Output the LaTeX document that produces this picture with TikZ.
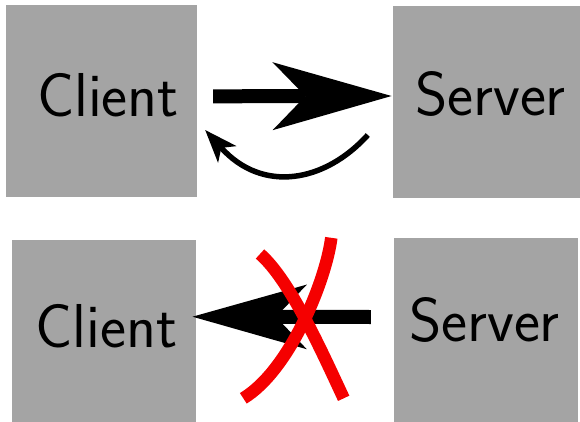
\documentclass[tikz,border=0pt]{standalone}
\usetikzlibrary{arrows.meta}
\definecolor{boxgray}{RGB}{164,164,164}
\definecolor{crossred}{RGB}{245,0,0}
\begin{document}
\begin{tikzpicture}[x=1pt,y=-1pt,
  box/.style={fill=boxgray, draw=none, inner sep=0pt, text height=42pt,
    font=\sffamily\fontsize{62}{64}\selectfont},
  crossline/.style={draw=crossred, line width=12.5pt}]
\path[use as bounding box] (0,0) rectangle (580,422);
\node[box, minimum width=191pt, minimum height=191.7pt, text depth=9.8pt] (c1) at (101.5,100.9) {\hspace*{13pt}Client};
\node[box, minimum width=195pt, minimum height=191.7pt, text depth=13.7pt] (s1) at (490.5,101.85) {Server};
\node[box, minimum width=184pt, minimum height=182pt, text depth=10pt] (c2) at (103.7,331) {\hspace*{5.4pt}Client};
\node[box, minimum width=184pt, minimum height=184pt, text depth=20pt] (s2) at (486,330) {Server\hspace*{3pt}};
% top straight arrow
\draw[line width=14pt, -{Stealth[length=119pt, width=68pt, inset=33pt, line width=0pt]}]
  ([shift={(16,-4.6)}]c1.east) -- ([shift={(-1.3,-5.85)}]s1.west);
% curved return arrow
\draw[line width=5.5pt, -{Stealth[length=33pt, width=25pt, inset=9pt, line width=0pt]}]
  ([shift={(-25,33.15)}]s1.west) .. controls +(-43.5,48) and +(57,63) .. ([shift={(8,29.15)}]c1.east);
% bottom straight arrow
\draw[line width=14pt, -{Stealth[length=114.4pt, width=64.7pt, inset=31pt, line width=0pt]}]
  ([shift={(-23,-13)}]s2.west) -- ([shift={(-3.4,-14.3)}]c2.east);
% red cross
\draw[crossline] (260,254) .. controls (290,280) and (322,352) .. (343.7,398.3);
\draw[crossline] (331.3,237.8) .. controls (326,280) and (290,370) .. (243.3,398.3);
\end{tikzpicture}
\end{document}
